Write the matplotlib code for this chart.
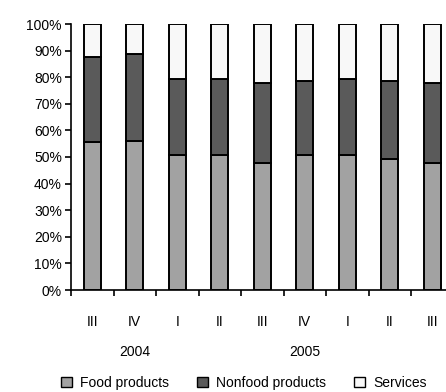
import numpy as np
import matplotlib.pyplot as plt
from matplotlib.patches import Patch
import matplotlib.transforms as mtransforms

plt.rcParams['font.family'] = ['Liberation Sans', 'DejaVu Sans']
plt.rcParams['font.size'] = 10

# quarterly shares of retail turnover, %
quarters = ['III', 'IV', 'I', 'II', 'III', 'IV', 'I', 'II', 'III']
years = ['2004', '2005']
food = [55.6, 56.1, 50.9, 50.9, 47.9, 50.9, 50.9, 49.1, 47.9]
nonfood = [32.0, 32.5, 28.4, 28.4, 29.8, 27.8, 28.4, 29.6, 29.8]
services = [100 - f - n for f, n in zip(food, nonfood)]

c_food = '#a2a2a2'
c_nonfood = '#5a5a5a'
c_serv = '#f8f8f8'

fig = plt.figure(figsize=(4.46, 3.92), dpi=100)
ax = fig.add_axes([71 / 446, 102 / 392, 382.5 / 446, 266 / 392])

x = np.arange(len(quarters))
w = 0.4
kw = dict(width=w, edgecolor='black', linewidth=1.4)
ax.bar(x, food, color=c_food, **kw)
ax.bar(x, nonfood, bottom=food, color=c_nonfood, **kw)
ax.bar(x, services, bottom=np.add(food, nonfood), color=c_serv, **kw)

ax.set_xlim(-0.5, len(quarters) - 0.5)
ax.set_ylim(0, 100)
ax.set_yticks(np.arange(0, 101, 10))
ax.set_yticklabels([f'{v}%' for v in range(0, 101, 10)], fontsize=10)
ax.tick_params(axis='y', direction='out', length=4.5, width=1.2, pad=2)

# category boundaries as ticks, quarter names drawn separately
ax.set_xticks(np.arange(len(quarters)) - 0.5)
ax.set_xticklabels([])
ax.tick_params(axis='x', direction='out', length=4.5, width=1.2)

for s in ['top', 'right']:
    ax.spines[s].set_visible(False)
for s in ['left', 'bottom']:
    ax.spines[s].set_linewidth(1.2)

trans = mtransforms.blended_transform_factory(ax.transData, fig.transFigure)
for xi, q in zip(x, quarters):
    ax.text(xi, 1 - 322 / 392, q, transform=trans, ha='center', va='center',
            fontsize=10)
for xi, yr in zip([1.0, 5.0], years):
    ax.text(xi, 1 - 352 / 392, yr, transform=trans, ha='center', va='center',
            fontsize=10)

handles = [Patch(facecolor=c, edgecolor='black', linewidth=1.0)
           for c in (c_food, c_nonfood, c_serv)]
fig.legend(handles, ['Food products', 'Nonfood products', 'Services'],
           loc='center', bbox_to_anchor=(0.5 + 21 / 446, 1 - 383 / 392), ncol=3,
           frameon=False, fontsize=10, handlelength=0.8, handleheight=0.8,
           handletextpad=0.6, columnspacing=2.0, borderaxespad=0)

fig.savefig('out.png', dpi=100)
